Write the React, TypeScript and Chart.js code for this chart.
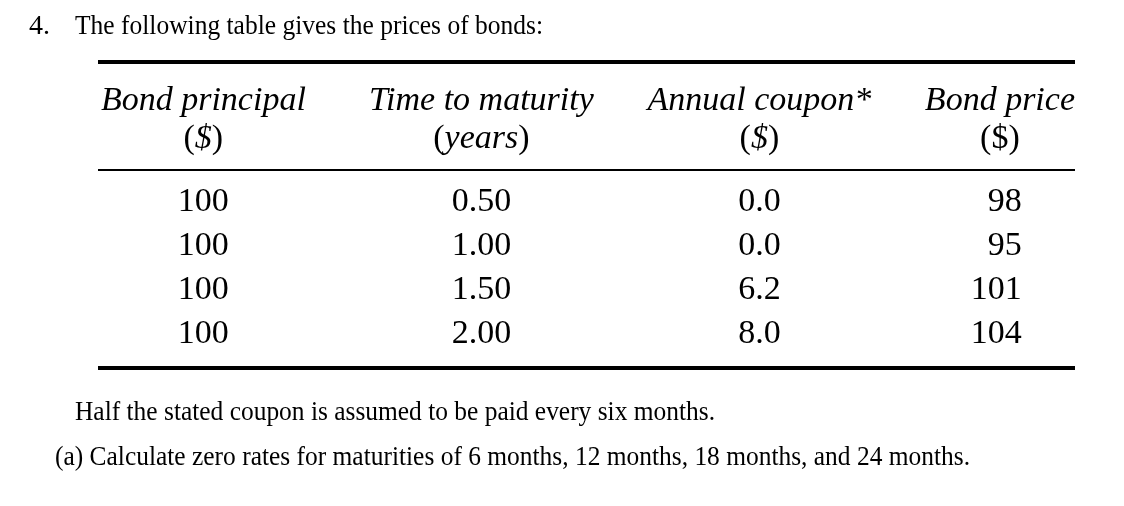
import React, { useEffect, useRef } from 'react';
import { Chart, registerables } from 'chart.js';

Chart.register(...registerables);

// ---- content ----
const QUESTION_NUMBER = '4.';
const QUESTION_TEXT = 'The following table gives the prices of bonds:';
const HEADER_LINE1 = ['Bond principal', 'Time to maturity', 'Annual coupon*', 'Bond price'];
const HEADER_LINE2 = ['($)', '(years)', '($)', '($)'];
const BOND_PRINCIPAL = [100, 100, 100, 100];
const TIME_TO_MATURITY = [0.5, 1.0, 1.5, 2.0];
const ANNUAL_COUPON = [0.0, 0.0, 6.2, 8.0];
const BOND_PRICE = [98, 95, 101, 104];
const NOTE = 'Half the stated coupon is assumed to be paid every six months.';
const QUESTION_A =
  '(a) Calculate zero rates for maturities of 6 months, 12 months, 18 months, and 24 months.';

const COLUMNS: string[][] = [
  BOND_PRINCIPAL.map((v) => String(v)),
  TIME_TO_MATURITY.map((v) => v.toFixed(2)),
  ANNUAL_COUPON.map((v) => v.toFixed(1)),
  BOND_PRICE.map((v) => String(v)),
];

// ---- style ----
const SERIF = '"Liberation Serif", "Times New Roman", serif';
const CELL_FONT = `34px ${SERIF}`;
const HEAD_FONT = `italic 34px ${SERIF}`;
const HEAD_UPRIGHT = `34px ${SERIF}`;
const TITLE_FONT = `28px ${SERIF}`;
const NOTE_FONT = `28px ${SERIF}`;

function fitText(ctx: CanvasRenderingContext2D, text: string, x: number, y: number, font: string, target?: number) {
  ctx.font = font;
  const w = ctx.measureText(text).width;
  const sx = target ? target / w : 1;
  ctx.save();
  ctx.translate(x, y);
  ctx.scale(sx, 1);
  ctx.textAlign = 'left';
  ctx.textBaseline = 'alphabetic';
  ctx.fillText(text, 0, 0);
  ctx.restore();
}

// draw "(xxx)" with upright parens and (optionally) italic inner text, centred at cx; returns total width
function drawUnit(ctx: CanvasRenderingContext2D, text: string, cx: number, y: number, italicInner: boolean) {
  const inner = text.slice(1, -1);
  const parts: [string, string][] = [
    ['(', HEAD_UPRIGHT],
    [inner, italicInner ? HEAD_FONT : HEAD_UPRIGHT],
    [')', HEAD_UPRIGHT],
  ];
  let total = 0;
  const widths = parts.map(([t, f]) => {
    ctx.font = f;
    const w = ctx.measureText(t).width;
    total += w;
    return w;
  });
  let x = cx - total / 2;
  ctx.textAlign = 'left';
  ctx.textBaseline = 'alphabetic';
  parts.forEach(([t, f], i) => {
    ctx.font = f;
    ctx.fillText(t, x, y);
    x += widths[i];
  });
  return total;
}

const tablePlugin = {
  id: 'bondTable',
  beforeDraw(chart: any) {
    const ctx = chart.ctx as CanvasRenderingContext2D;
    ctx.save();
    ctx.fillStyle = '#ffffff';
    ctx.fillRect(0, 0, chart.width, chart.height);
    ctx.restore();
  },
  afterDraw(chart: any) {
    const ctx = chart.ctx as CanvasRenderingContext2D;
    const area = chart.chartArea;
    const xs = chart.scales.x;
    const last = COLUMNS.length - 1;
    ctx.save();
    ctx.fillStyle = '#000000';

    // question heading
    fitText(ctx, QUESTION_NUMBER, 29, 34, TITLE_FONT);
    fitText(ctx, QUESTION_TEXT, 75, 34, TITLE_FONT, 468);

    // rules
    const w = area.right - area.left;
    ctx.fillRect(area.left, area.top - 2, w, 4);
    ctx.fillRect(area.left, area.top + 107, w, 2);
    ctx.fillRect(area.left, area.bottom - 2, w, 4);

    // headers
    const h1 = area.top + 48;
    const h2 = area.top + 86;
    let lastRightEdge = area.right;
    HEADER_LINE1.forEach((label, c) => {
      ctx.font = HEAD_FONT;
      ctx.textBaseline = 'alphabetic';
      const lw = ctx.measureText(label).width;
      let cx = xs.getPixelForValue(c);
      if (c === last) cx = area.right - lw / 2;
      ctx.textAlign = 'center';
      ctx.fillText(label, cx, h1);
      const uw = drawUnit(ctx, HEADER_LINE2[c], cx, h2, c !== last);
      if (c === last) lastRightEdge = cx + uw / 2;
    });

    // cells
    ctx.font = CELL_FONT;
    ctx.textBaseline = 'alphabetic';
    chart.data.datasets.forEach((ds: any, c: number) => {
      const meta = chart.getDatasetMeta(c);
      meta.data.forEach((el: any, r: number) => {
        if (c === last) {
          ctx.textAlign = 'right';
          ctx.fillText(COLUMNS[c][r], lastRightEdge + 2, el.y + 11.5);
        } else {
          ctx.textAlign = 'center';
          ctx.fillText(COLUMNS[c][r], el.x, el.y + 11.5);
        }
      });
    });

    // notes
    fitText(ctx, NOTE, 75, 420, NOTE_FONT, 640);
    fitText(ctx, QUESTION_A, 55, 465, NOTE_FONT, 915);
    ctx.restore();
  },
};

export default function App() {
  const ref = useRef<HTMLCanvasElement | null>(null);
  useEffect(() => {
    if (!ref.current) return;
    const chart = new Chart(ref.current, {
      type: 'scatter',
      data: {
        datasets: COLUMNS.map((col, c) => ({
          label: HEADER_LINE1[c],
          data: col.map((_, r) => ({ x: c, y: r })),
          pointRadius: 0,
          pointHoverRadius: 0,
        })),
      },
      options: {
        responsive: false,
        devicePixelRatio: 1,
        animation: false,
        events: [],
        layout: { padding: { left: 98, right: 49, top: 62, bottom: 138 } },
        scales: {
          x: { type: 'linear', display: false, min: -0.379, max: 3.135 },
          y: { type: 'linear', display: false, reverse: true, min: -3.125, max: 3.83 },
        },
        plugins: { legend: { display: false }, tooltip: { enabled: false }, title: { display: false } },
      },
      plugins: [tablePlugin],
    });
    return () => chart.destroy();
  }, []);
  return (
    <canvas
      ref={ref}
      width={1124}
      height={506}
      style={{ position: 'absolute', left: 0, top: 0, display: 'block', width: 1124, height: 506 }}
    />
  );
}
